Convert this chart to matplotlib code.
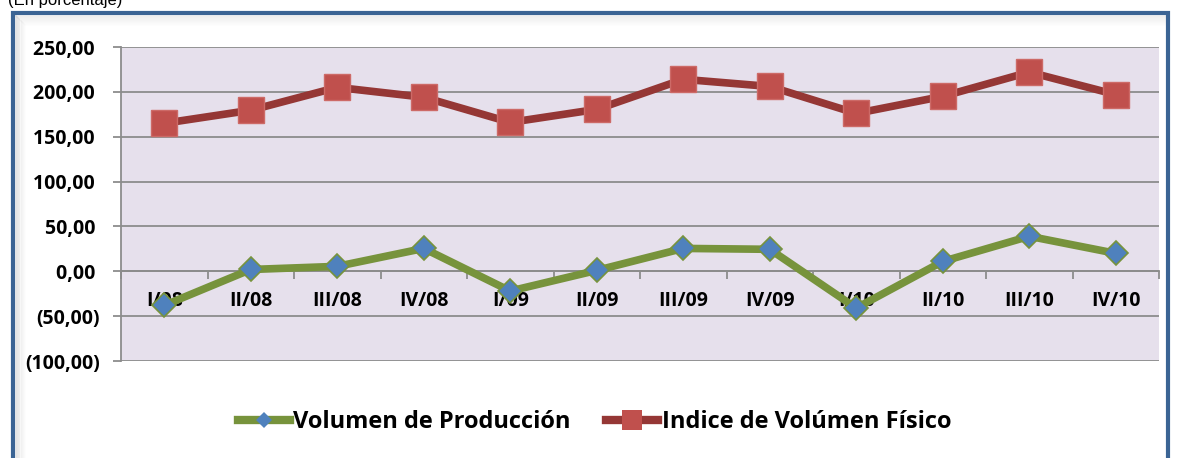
import matplotlib.pyplot as plt
from matplotlib.lines import Line2D
from matplotlib.patches import Rectangle
import numpy as np

# Data
periods = ["I/08", "II/08", "III/08", "IV/08", "I/09", "II/09",
           "III/09", "IV/09", "I/10", "II/10", "III/10", "IV/10"]
volumen_produccion = [-38, 2, 5.5, 25.5, -22, 1, 25.5, 24.5, -41, 11, 39, 20]
indice_volumen = [165, 179.5, 205, 194, 166, 180.5, 214, 206, 176, 195, 222, 197]
y_ticks = [-100, -50, 0, 50, 100, 150, 200, 250]
y_tick_labels = ["(100,00)", "(50,00)", "0,00 ", "50,00 ", "100,00 ",
                 "150,00 ", "200,00 ", "250,00 "]

FONT = "Open Sans"
GREEN = "#77933C"
BLUE = "#4F81BD"
DARK_RED = "#953735"
RED = "#C0504D"
GRID = "#8C8C8C"

W, H = 1187, 458
fig = plt.figure(figsize=(W / 100, H / 100), dpi=100)

# Frame around chart with inner shadow
for i in range(10):
    a = 0.10 * (1 - i / 10)
    fig.add_artist(Rectangle(((15 + i) / W, 0), 1.5 / W, (H - 15 - i) / H,
                             transform=fig.transFigure, color="#707070",
                             alpha=a, lw=0))
    fig.add_artist(Rectangle(((15 + i) / W, (H - 15 - i - 1.5) / H),
                             (1152 - i) / W, 1.5 / H,
                             transform=fig.transFigure, color="#707070",
                             alpha=a * 0.6, lw=0))
fig.add_artist(Rectangle((13 / W, -0.05), 1155 / W, (H - 13) / H + 0.05,
                         transform=fig.transFigure, fill=False,
                         edgecolor="#3B6494", lw=3))

fig.text(8 / W, 1 - 5 / H, "(En porcentaje)", fontsize=12,
         family="Liberation Sans", va="baseline", ha="left")

ax = fig.add_axes([121 / W, 1 - 361 / H, 1038 / W, 314 / H])
ax.set_facecolor("#E6E0EC")
x = np.arange(len(periods))

ax.plot(x, volumen_produccion, color=GREEN, lw=5.5, marker="D", ms=12,
        mfc=BLUE, mec=GREEN, mew=1.2, zorder=3, solid_joinstyle="round")
ax.plot(x, indice_volumen, color=DARK_RED, lw=5.5, marker="s", ms=18.5,
        mfc=RED, mec="#CD6A67", mew=1, zorder=3, solid_joinstyle="round")

ax.set_xlim(-0.5, len(periods) - 0.5)
ax.set_ylim(-100, 250)
ax.set_yticks(y_ticks)
ax.set_yticklabels(y_tick_labels, fontsize=14, fontweight="bold",
                   family=FONT)
ax.yaxis.grid(True, color=GRID, lw=1.3)
ax.set_axisbelow(True)
ax.tick_params(axis="y", length=6, width=1.3, color=GRID, pad=9)

ax.spines["top"].set_visible(False)
ax.spines["right"].set_visible(False)
ax.spines["left"].set_color(GRID)
ax.spines["left"].set_linewidth(1.3)
ax.spines["bottom"].set_position(("data", 0))
ax.spines["bottom"].set_color(GRID)
ax.spines["bottom"].set_linewidth(1.3)

ax.set_xticks(np.arange(-0.5, len(periods), 1))
ax.set_xticklabels([])
ax.tick_params(axis="x", which="major", length=6, width=1.3, color=GRID)
ax.set_xticks(x, minor=True)
ax.set_xticklabels(periods, minor=True, fontsize=14, fontweight="bold",
                   family=FONT)
ax.tick_params(axis="x", which="minor", length=0, pad=14)

handles = [
    Line2D([], [], color=GREEN, lw=6, marker="D", ms=8, mfc=BLUE,
           mec=BLUE, mew=0),
    Line2D([], [], color=DARK_RED, lw=6, marker="s", ms=14, mfc=RED,
           mec=RED, mew=0),
]
fig.legend(handles, ["Volumen de Producción", "Indice de Volúmen Físico"],
           loc="center", bbox_to_anchor=(0.501, 1 - 422 / H), ncol=2,
           frameon=False, prop={"family": FONT, "weight": "bold", "size": 17},
           handlelength=2.2, handletextpad=0.15, columnspacing=1.5)

plt.savefig("out.png", dpi=100)
